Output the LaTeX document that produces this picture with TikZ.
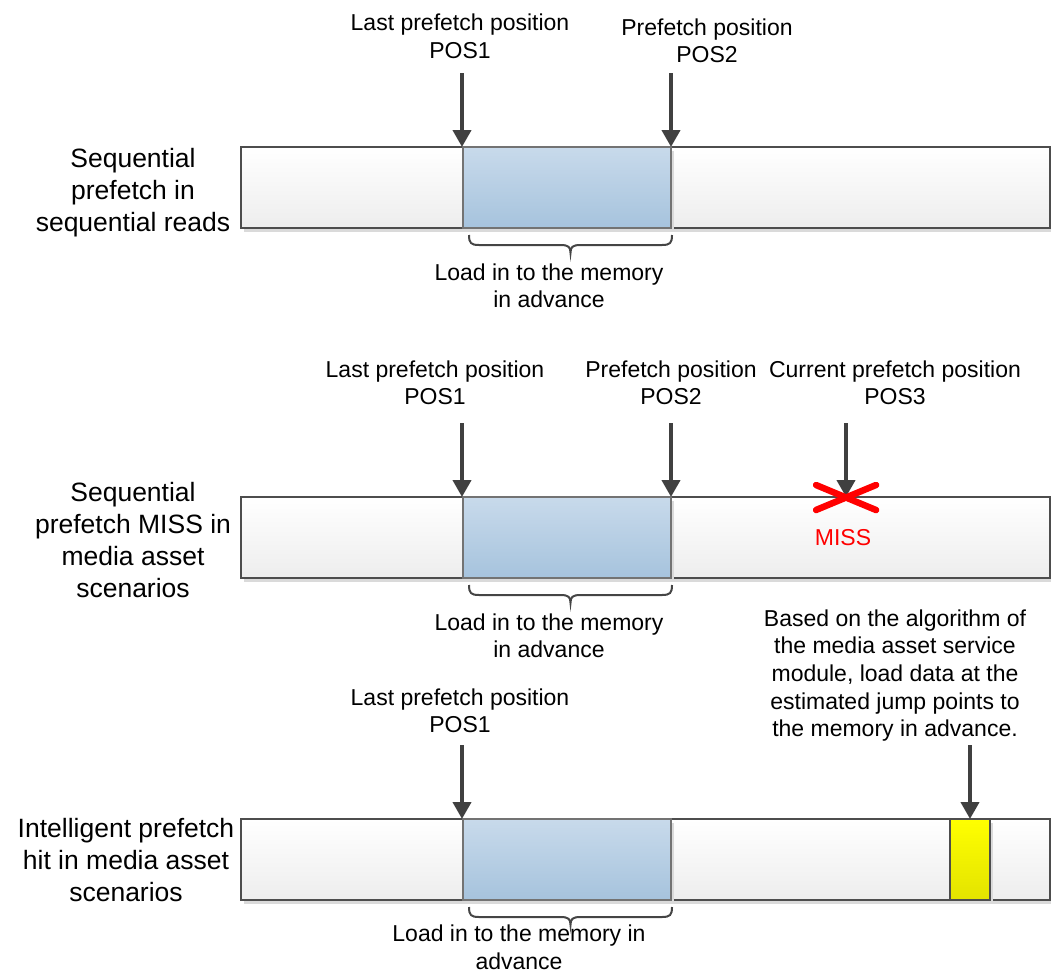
\documentclass[tikz,border=0pt]{standalone}
\usepackage{fontspec}
\setmainfont{Liberation Sans}
\usetikzlibrary{arrows.meta,shadows}

\definecolor{arrowgray}{HTML}{404040}
\definecolor{edgegray}{HTML}{4D4D4D}
\definecolor{bluetop}{HTML}{C8DAEB}
\definecolor{bluebot}{HTML}{A6C3DD}
\definecolor{yellowtop}{HTML}{FFFF00}
\definecolor{yellowbot}{HTML}{E3E300}
\definecolor{shadowgray}{HTML}{DADADA}
\definecolor{bracegray}{HTML}{454545}

% multi-line labels are placed by the baseline of their last line
\tikzset{
  lbl/.style={font=\fontsize{23}{27.7}\selectfont, align=center, inner sep=0pt, anchor=base},
  rowlbl/.style={font=\fontsize{26.5}{32}\selectfont, align=center, inner sep=0pt, anchor=base},
  softshadow/.style={drop shadow={shadow xshift=3pt, shadow yshift=-4pt, fill=shadowgray, opacity=1}},
  bar/.style={draw=edgegray, line width=2.4pt, top color=white, bottom color=black!7,
    minimum width=809pt, minimum height=81pt, inner sep=0pt, outer sep=0pt, softshadow},
  loaded/.style={draw=black!55, line width=1.8pt, top color=bluetop, bottom color=bluebot,
    minimum width=208pt, minimum height=81pt, inner sep=0pt, outer sep=0pt, softshadow},
  jump/.style={draw=edgegray, line width=2pt, top color=yellowtop, bottom color=yellowbot,
    minimum width=40pt, minimum height=81pt, inner sep=0pt, outer sep=0pt, softshadow},
  ptr/.style={draw=arrowgray, line width=4pt, -{Triangle[length=17pt,width=18pt]}},
  misscross/.style={draw=red, line width=6.5pt, line cap=round},
  membrace/.pic={
    \draw[bracegray, line width=2pt]
      (0,0) .. controls (0,8) and (2,10) .. (10,10) -- (91.5,10)
      .. controls (99.5,10) and (101.5,12) .. (101.5,18)
      .. controls (101.5,12) and (103.5,10) .. (111.5,10) -- (193,10)
      .. controls (201,10) and (203,8) .. (203,0);
  }
}

\begin{document}
\begin{tikzpicture}[x=1pt,y=-1pt]
\useasboundingbox (0,0) rectangle (1051,974);

% ---------- row 1: sequential prefetch ----------
\node[bar] (bar1) at (645.5,187.5) {};
\node[loaded] (load1) at (567,187.5) {};
\node[rowlbl] (row1) at (133,231) {Sequential\\prefetch in\\sequential reads};
\node[lbl] (last1) at (460,58.7) {Last prefetch position\\POS1};
\node[lbl] (pre1) at (707,63) {Prefetch position\\POS2};
\coordinate (s11) at (462,73);
\coordinate (s12) at (671,73);
\draw[ptr] (s11) -- (s11 |- load1.north);
\draw[ptr] (s12) -- (s12 |- load1.north);
\pic at (469,235) {membrace};
\node[lbl] (mem1) at (549,307.7) {Load in to the memory\\in advance};

% ---------- row 2: sequential prefetch miss ----------
\node[bar] (bar2) at (645.5,537.5) {};
\node[loaded] (load2) at (567,537.5) {};
\node[rowlbl] (row2) at (133,597) {Sequential\\prefetch MISS in\\media asset\\scenarios};
\node[lbl] (last2) at (435,404.7) {Last prefetch position\\POS1};
\node[lbl] (pre2) at (671,404.7) {Prefetch position\\POS2};
\node[lbl] (cur2) at (895,404.7) {Current prefetch position\\POS3};
\coordinate (s21) at (462,423);
\coordinate (s22) at (671,423);
\coordinate (s23) at (846,423);
\coordinate (hit2) at (846,497);
\draw[ptr] (s21) -- (s21 |- load2.north);
\draw[ptr] (s22) -- (s22 |- load2.north);
\draw[ptr] (s23) -- (hit2);
\draw[misscross] (hit2) ++(-30,-12) -- ++(60,25);
\draw[misscross] (hit2) ++(-30,13) -- ++(60,-25);
\node[lbl, text=red] (miss) at (843,545) {MISS};
\pic at (469,585) {membrace};
\node[lbl] (mem2) at (549,657.7) {Load in to the memory\\in advance};

% ---------- row 3: intelligent prefetch hit ----------
\node[bar] (bar3) at (645.5,859.5) {};
\node[loaded] (load3) at (567,859.5) {};
\node[jump] (jump3) at (970,859.5) {};
\node[rowlbl] (row3) at (126,901) {Intelligent prefetch\\hit in media asset\\scenarios};
\node[lbl] (last3) at (460,732.7) {Last prefetch position\\POS1};
\node[lbl] (algo) at (895,736.8) {Based on the algorithm of\\the media asset service\\module, load data at the\\estimated jump points to\\the memory in advance.};
\coordinate (s31) at (462,745);
\coordinate (s32) at (970,745);
\draw[ptr] (s31) -- (s31 |- load3.north);
\draw[ptr] (s32) -- (jump3.north);
\pic at (469,907) {membrace};
\node[lbl] (mem3) at (519,969.5) {Load in to the memory in\\advance};
\end{tikzpicture}
\end{document}
